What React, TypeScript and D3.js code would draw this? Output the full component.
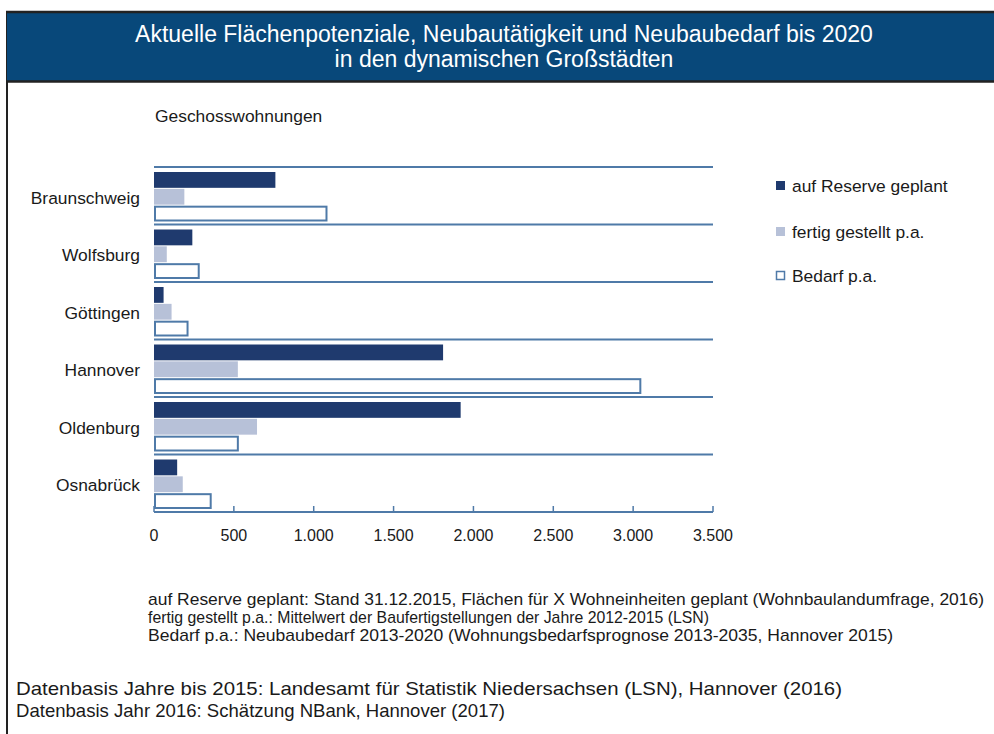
import React from "react";
import * as d3 from "d3";

// Cities (top to bottom) and the three series per city
const cities = ["Braunschweig", "Wolfsburg", "Göttingen", "Hannover", "Oldenburg", "Osnabrück"];
const seriesKeys = ["reserve", "fertig", "bedarf"];
const seriesLabels = ["auf Reserve geplant", "fertig gestellt p.a.", "Bedarf p.a."];
const reserveValues = [760, 240, 60, 1810, 1920, 145];
const fertigValues = [190, 80, 110, 525, 645, 180];
const bedarfValues = [1080, 280, 210, 3045, 525, 355];
const tickValues = [0, 500, 1000, 1500, 2000, 2500, 3000, 3500];

const titleLines = [
  "Aktuelle Flächenpotenziale, Neubautätigkeit und Neubaubedarf bis 2020",
  "in den dynamischen Großstädten",
];
const noteLines = [
  "auf Reserve geplant: Stand 31.12.2015, Flächen für X Wohneinheiten geplant (Wohnbaulandumfrage, 2016)",
  "fertig gestellt p.a.: Mittelwert der Baufertigstellungen der Jahre 2012-2015 (LSN)",
  "Bedarf p.a.: Neubaubedarf 2013-2020 (Wohnungsbedarfsprognose 2013-2035, Hannover 2015)",
];
const sourceLines = [
  "Datenbasis Jahre bis 2015: Landesamt für Statistik Niedersachsen (LSN), Hannover (2016)",
  "Datenbasis Jahr 2016: Schätzung NBank, Hannover (2017)",
];
const subtitle = "Geschosswohnungen";

const W = 994;
const H = 734;
const FONT = "'Liberation Sans', Arial, sans-serif";

const NAVY = "#1f3a6e";
const LIGHT = "#b7c1d8";
const STEEL = "#4f7aa8";
const HEADER = "#08487a";
const TEXT = "#1a1a1a";

const deLocale = d3.formatLocale({
  decimal: ",",
  thousands: ".",
  grouping: [3],
  currency: ["", " €"],
});
const fmt = deLocale.format(",d");

// set widths for the note lines so they line up in the frame
const noteWidths = [836, 561, 745];
const sourceWidths = [826, 489];

export default function App() {
  const x = d3.scaleLinear().domain([0, 3500]).range([154, 713]);
  const y = d3.scaleBand<string>().domain(cities).range([167, 512]);
  const bw = y.bandwidth();
  const inner = d3
    .scaleBand<string>()
    .domain(seriesKeys)
    .range([5, bw - 3])
    .paddingInner(0.06);

  const rows = cities.map((c, i) => ({
    city: c,
    reserve: reserveValues[i],
    fertig: fertigValues[i],
    bedarf: bedarfValues[i],
  }));

  const legendY = [186, 232, 276];

  return (
    <svg
      width={W}
      height={H}
      viewBox={`0 0 ${W} ${H}`}
      style={{ position: "absolute", left: 0, top: 0, background: "#fff" }}
    >
      {/* outer frame */}
      <line x1={7} y1={11} x2={7} y2={H} stroke="#222" strokeWidth={2} />
      {/* header band */}
      <rect x={7} y={12} width={W - 7} height={69} fill={HEADER} />
      <line x1={6} y1={12} x2={W} y2={12} stroke="#222" strokeWidth={2.5} />
      <line x1={6} y1={81.5} x2={W} y2={81.5} stroke="#222" strokeWidth={2.5} />
      {titleLines.map((t, i) => (
        <text
          key={t}
          x={504}
          y={42 + i * 25}
          textAnchor="middle"
          fill="#fff"
          fontFamily={FONT}
          fontSize={23}
        >
          {t}
        </text>
      ))}

      {/* subtitle */}
      <text x={155} y={122} fontFamily={FONT} fontSize={17.4} fill={TEXT}>
        {subtitle}
      </text>

      {/* bars */}
      {rows.map((r) => {
        const y0 = y(r.city)!;
        return (
          <g key={r.city}>
            <line x1={x(0)} x2={x(3500)} y1={y0} y2={y0} stroke={STEEL} strokeWidth={2} />
            <rect
              x={x(0)}
              y={y0 + inner("reserve")!}
              width={x(r.reserve) - x(0)}
              height={inner.bandwidth()}
              fill={NAVY}
            />
            <rect
              x={x(0)}
              y={y0 + inner("fertig")!}
              width={x(r.fertig) - x(0)}
              height={inner.bandwidth()}
              fill={LIGHT}
            />
            <rect
              x={x(0) + 1}
              y={y0 + inner("bedarf")! + 1}
              width={x(r.bedarf) - x(0) - 1}
              height={inner.bandwidth() - 2}
              fill="#fff"
              stroke={STEEL}
              strokeWidth={2}
            />
            <text
              x={140}
              y={y0 + bw / 2 + 8}
              textAnchor="end"
              fontFamily={FONT}
              fontSize={17.4}
              fill={TEXT}
            >
              {r.city}
            </text>
          </g>
        );
      })}

      {/* x axis */}
      <g>
        <line x1={x(0)} x2={x(3500)} y1={512} y2={512} stroke={STEEL} strokeWidth={2} />
        {tickValues.map((v) => (
          <g key={v}>
            <line x1={x(v)} x2={x(v)} y1={512} y2={506} stroke={STEEL} strokeWidth={1.5} />
            <text
              x={x(v)}
              y={541}
              textAnchor="middle"
              fontFamily={FONT}
              fontSize={16}
              fill={TEXT}
            >
              {fmt(v)}
            </text>
          </g>
        ))}
      </g>

      {/* legend */}
      {seriesKeys.map((k, i) => (
        <g key={k}>
          {k === "bedarf" ? (
            <rect
              x={776.5}
              y={legendY[i] - 4.5}
              width={8}
              height={8}
              fill="#fff"
              stroke={STEEL}
              strokeWidth={1.5}
            />
          ) : (
            <rect
              x={776}
              y={legendY[i] - 5}
              width={9}
              height={9}
              fill={k === "reserve" ? NAVY : LIGHT}
            />
          )}
          <text
            x={792}
            y={legendY[i] + 6}
            fontFamily={FONT}
            fontSize={17.4}
            fill={TEXT}
          >
            {seriesLabels[i]}
          </text>
        </g>
      ))}

      {/* notes */}
      {noteLines.map((t, i) => (
        <text
          key={t}
          x={148}
          y={605 + i * 18}
          fontFamily={FONT}
          fontSize={17}
          fill={TEXT}
          textLength={noteWidths[i]}
          lengthAdjust="spacingAndGlyphs"
        >
          {t}
        </text>
      ))}
      {sourceLines.map((t, i) => (
        <text
          key={t}
          x={16}
          y={695 + i * 22}
          fontFamily={FONT}
          fontSize={19}
          fill={TEXT}
          textLength={sourceWidths[i]}
          lengthAdjust="spacingAndGlyphs"
        >
          {t}
        </text>
      ))}
    </svg>
  );
}
